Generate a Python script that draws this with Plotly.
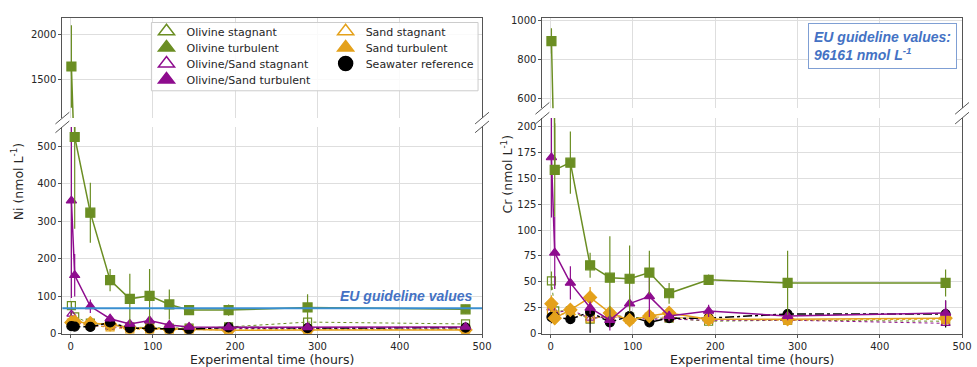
import plotly.graph_objects as go

W, H = 977, 367

# ---------------- data ----------------
time_h = [1, 5, 24, 48, 72, 96, 120, 144, 192, 288, 480]

# Ni (nmol/L)
ni_ol_stag = [75, 45, 28, 22, 18, 16, 15, 15, 18, 31, 26]
ni_ol_stag_err = [10, 8, 5, 5, 4, 4, 3, 3, 4, 6, 5]
ni_ol_turb = [1640, 525, 323, 143, 93, 101, 78, 63, 63, 70, 65]
ni_ol_turb_err = [460, 245, 80, 30, 67, 72, 40, 6, 15, 35, 12]
ni_os_stag = [52, 30, 22, 18, 15, 14, 13, 12, 14, 13, 12]
ni_os_stag_err = [8, 6, 4, 4, 3, 3, 3, 3, 3, 3, 3]
ni_os_turb = [355, 156, 73, 40, 26, 35, 23, 18, 17, 17, 18]
ni_os_turb_err = [260, 57, 18, 8, 8, 10, 6, 5, 4, 4, 4]
ni_sa_stag = [28, 25, 22, 18, 12, 12, 11, 10, 10, 11, 11]
ni_sa_stag_err = [5, 4, 4, 4, 3, 3, 3, 2, 2, 2, 2]
ni_sa_turb = [30, 32, 28, 25, 15, 14, 12, 11, 9, 10, 10]
ni_sa_turb_err = [6, 5, 5, 5, 3, 3, 3, 2, 2, 2, 2]
ni_sw = [20, 19, 18, 30, 15, 14, 13, 12, 17, 15, 16]
ni_sw_err = [4, 4, 3, 6, 3, 3, 3, 3, 3, 3, 4]
ni_eu = 68

# Cr (nmol/L)
cr_ol_stag = [51, 22, 22, 14, 18, 16, 15, 15, 12, 13, 12]
cr_ol_stag_err = [9, 5, 4, 4, 4, 3, 3, 3, 3, 3, 3]
cr_ol_turb = [895, 158, 165, 66, 54, 53, 59, 39, 52, 49, 49]
cr_ol_turb_err = [65, 45, 30, 12, 40, 32, 21, 10, 5, 31, 13]
cr_os_stag = [25, 20, 23, 15, 16, 15, 14, 14, 13, 13, 10]
cr_os_stag_err = [5, 4, 4, 3, 3, 3, 3, 3, 3, 3, 3]
cr_os_turb = [170, 78, 49, 25, 13, 29, 36, 17, 22, 17, 20]
cr_os_turb_err = [58, 35, 16, 6, 10, 8, 20, 5, 6, 4, 12]
cr_sa_stag = [22, 18, 20, 15, 17, 14, 16, 16, 14, 13, 14]
cr_sa_stag_err = [5, 4, 4, 3, 3, 3, 3, 3, 3, 3, 3]
cr_sa_turb = [29, 15, 23, 35, 20, 13, 17, 20, 14, 14, 15]
cr_sa_turb_err = [8, 5, 5, 10, 6, 4, 5, 5, 3, 4, 3]
cr_sw = [16, 16, 14, 21, 11, 17, 11, 15, 15, 19, 19]
cr_sw_err = [6, 5, 3, 20, 4, 4, 3, 3, 3, 5, 13]

legend_names = ["Olivine stagnant", "Olivine turbulent", "Olivine/Sand stagnant",
                "Olivine/Sand turbulent", "Sand stagnant", "Sand turbulent",
                "Seawater reference"]

# ---------------- styles ----------------
GREEN = "#6b8e23"
PURPLE = "#8e0c8e"
ORANGE = "#e4a11b"
BLACK = "#000000"
BLUE_LINE = "#3a8fd0"
BLUE_TXT = "#4472c4"
TXT = "#262626"
SPINE = "#555555"
GRID = "#dedede"
FONT = "DejaVu Sans"


def px(x):
    return x / W


def py(y):
    return 1 - y / H


fig = go.Figure()

series_ni = [
    (ni_ol_stag, ni_ol_stag_err, GREEN, "square-open", "dot", 1, 8),
    (ni_os_stag, ni_os_stag_err, PURPLE, "triangle-up-open", "dot", 1, 8),
    (ni_sa_stag, ni_sa_stag_err, ORANGE, "square-open", "dot", 1, 8),
    (ni_sa_turb, ni_sa_turb_err, ORANGE, "diamond", "solid", 1.5, 10),
    (ni_sw, ni_sw_err, BLACK, "circle", "dashdot", 1.5, 9),
    (ni_os_turb, ni_os_turb_err, PURPLE, "triangle-up", "solid", 1.5, 9),
    (ni_ol_turb, ni_ol_turb_err, GREEN, "square", "solid", 1.5, 9),
]
series_cr = [
    (cr_ol_stag, cr_ol_stag_err, GREEN, "square-open", "dot", 1, 8),
    (cr_os_stag, cr_os_stag_err, PURPLE, "triangle-up-open", "dot", 1, 8),
    (cr_sa_stag, cr_sa_stag_err, ORANGE, "square-open", "dot", 1, 8),
    (cr_sw, cr_sw_err, BLACK, "circle", "dashdot", 1.5, 9),
    (cr_sa_turb, cr_sa_turb_err, ORANGE, "diamond", "solid", 1.5, 10),
    (cr_os_turb, cr_os_turb_err, PURPLE, "triangle-up", "solid", 1.5, 9),
    (cr_ol_turb, cr_ol_turb_err, GREEN, "square", "solid", 1.5, 9),
]


def add_series(vals, err, color, symbol, dash, lw, size, xa, ya):
    fig.add_trace(go.Scatter(
        x=time_h, y=vals, xaxis=xa, yaxis=ya, mode="lines+markers",
        showlegend=False, hoverinfo="skip",
        line=dict(color=color, width=lw, dash=dash),
        marker=dict(symbol=symbol, size=size, color=color,
                    line=dict(width=1.2, color=color)),
        error_y=dict(type="data", array=err, width=0, thickness=1.2, color=color),
    ))


for s in series_ni:
    add_series(*s, "x", "y")
    add_series(*s, "x2", "y2")
for s in series_cr:
    add_series(*s, "x3", "y3")
    add_series(*s, "x4", "y4")

# legend-only traces (triangle glyphs as in the original legend)
leg_style = [
    (GREEN, "triangle-up-open"), (GREEN, "triangle-up"),
    (PURPLE, "triangle-up-open"), (PURPLE, "triangle-up"),
    (ORANGE, "triangle-up-open"), (ORANGE, "triangle-up"),
    (BLACK, "circle"),
]
for i, (name, (c, sym)) in enumerate(zip(legend_names, leg_style)):
    fig.add_trace(go.Scatter(
        x=[None], y=[None], xaxis="x2", yaxis="y2", mode="markers", name=name,
        legend="legend" if i == 0 else f"legend{i+1}",
        marker=dict(symbol=sym, size=14, color=c, line=dict(width=1.5, color=c)),
    ))

# legend placement (one entry per legend for exact spacing)
rows = [29, 45.5, 62, 78.5]
leg_pos = [(148, rows[0]), (148, rows[1]), (148, rows[2]), (148, rows[3]),
           (329, rows[0]), (329, rows[1]), (329, rows[2])]
legends = {}
for i, (lx, ly) in enumerate(leg_pos):
    key = "legend" if i == 0 else f"legend{i+1}"
    legends[key] = dict(x=px(lx), y=py(ly), xanchor="left", yanchor="middle",
                        bgcolor="rgba(0,0,0,0)", borderwidth=0,
                        font=dict(family=FONT, size=11, color=TXT),
                        itemclick=False, itemdoubleclick=False)

xl = [px(63), px(487)]
xr = [px(548), px(972)]

ax_common = dict(showgrid=True, gridcolor=GRID, gridwidth=1, zeroline=False,
                 linecolor=SPINE, linewidth=1,
                 tickfont=dict(family=FONT, size=10, color=TXT))
xt = dict(range=[-10, 500], tickvals=[0, 100, 200, 300, 400, 500], **ax_common)
title_font = dict(family=FONT, size=12.5, color=TXT)

fig.update_layout(
    width=W, height=H, margin=dict(l=0, r=0, t=0, b=0),
    paper_bgcolor="white", plot_bgcolor="white",
    # Ni top
    xaxis=dict(domain=xl, anchor="y", showticklabels=False, ticks="",
               showline=True, side="top", mirror=False, **xt),
    yaxis=dict(domain=[py(118), py(15)], anchor="x", range=[1065, 2185],
               tickvals=[1500, 2000], showline=True, mirror=True,
               ticks="outside", ticklen=3, tickcolor=SPINE, **ax_common),
    # Ni bottom
    xaxis2=dict(domain=xl, anchor="y2", showline=True, mirror=False,
                ticks="outside", ticklen=3, tickcolor=SPINE,
                title=dict(text="Experimental time (hours)", font=title_font, standoff=2),
                **xt),
    yaxis2=dict(domain=[py(339), py(127)], anchor="x2", range=[0, 552],
                tickvals=[0, 100, 200, 300, 400, 500], showline=True, mirror=True,
                ticks="outside", ticklen=3, tickcolor=SPINE, **ax_common),
    # Cr top
    xaxis3=dict(domain=xr, anchor="y3", showticklabels=False, ticks="",
                showline=True, side="top", mirror=False, **xt),
    yaxis3=dict(domain=[py(108), py(15)], anchor="x3", range=[550, 1015],
                tickvals=[600, 800, 1000], showline=True, mirror=True,
                ticks="outside", ticklen=3, tickcolor=SPINE, **ax_common),
    # Cr bottom
    xaxis4=dict(domain=xr, anchor="y4", showline=True, mirror=False,
                ticks="outside", ticklen=3, tickcolor=SPINE,
                title=dict(text="Experimental time (hours)", font=title_font, standoff=2),
                **xt),
    yaxis4=dict(domain=[py(339), py(118)], anchor="x4", range=[0, 208],
                tickvals=[0, 25, 50, 75, 100, 125, 150, 175, 200], showline=True,
                mirror=True, ticks="outside", ticklen=3, tickcolor=SPINE, **ax_common),
    **legends,
)

shapes = []
# EU guideline line (Ni)
shapes.append(dict(type="line", xref="x2 domain", yref="y2", x0=0, x1=1,
                   y0=ni_eu, y1=ni_eu, line=dict(color=BLUE_LINE, width=2),
                   layer="above"))
# legend frame
shapes.append(dict(type="rect", xref="paper", yref="paper",
                   x0=px(153), x1=px(483), y0=py(90), y1=py(20),
                   fillcolor="rgba(255,255,255,0.85)",
                   line=dict(color="#cccccc", width=1), layer="above"))


def brk(cx, cy):
    shapes.append(dict(type="line", xref="paper", yref="paper",
                       x0=px(cx - 7), y0=py(cy + 6), x1=px(cx + 7), y1=py(cy - 6),
                       line=dict(color=SPINE, width=1)))


for cx in (63, 487):
    brk(cx, 118)
    brk(cx, 127)
for cx in (548, 972):
    brk(cx, 108)
    brk(cx, 118)

annotations = [
    dict(text="Ni (nmol L<sup>-1</sup>)", xref="paper", yref="paper",
         x=px(17), y=py(183), textangle=-90, showarrow=False,
         font=title_font, xanchor="center", yanchor="middle"),
    dict(text="Cr (nmol L<sup>-1</sup>)", xref="paper", yref="paper",
         x=px(512), y=py(175), textangle=-90, showarrow=False,
         font=title_font, xanchor="center", yanchor="middle"),
    dict(text="<b><i>EU guideline values</i></b>", xref="paper", yref="paper",
         x=px(479), y=py(300), xanchor="right", yanchor="middle", showarrow=False,
         font=dict(family="Liberation Sans", size=14, color=BLUE_TXT)),
    dict(text="<b><i>EU guideline values:<br>96161 nmol L<sup>-1</sup></i></b>",
         xref="paper", yref="paper", x=px(967), y=py(20), xanchor="right",
         yanchor="top", showarrow=False, align="left",
         bgcolor="white", bordercolor="#7f9fd4", borderwidth=1, borderpad=5,
         font=dict(family="Liberation Sans", size=14, color=BLUE_TXT)),
]

fig.update_layout(shapes=shapes, annotations=annotations)
fig.write_html("out.html")
